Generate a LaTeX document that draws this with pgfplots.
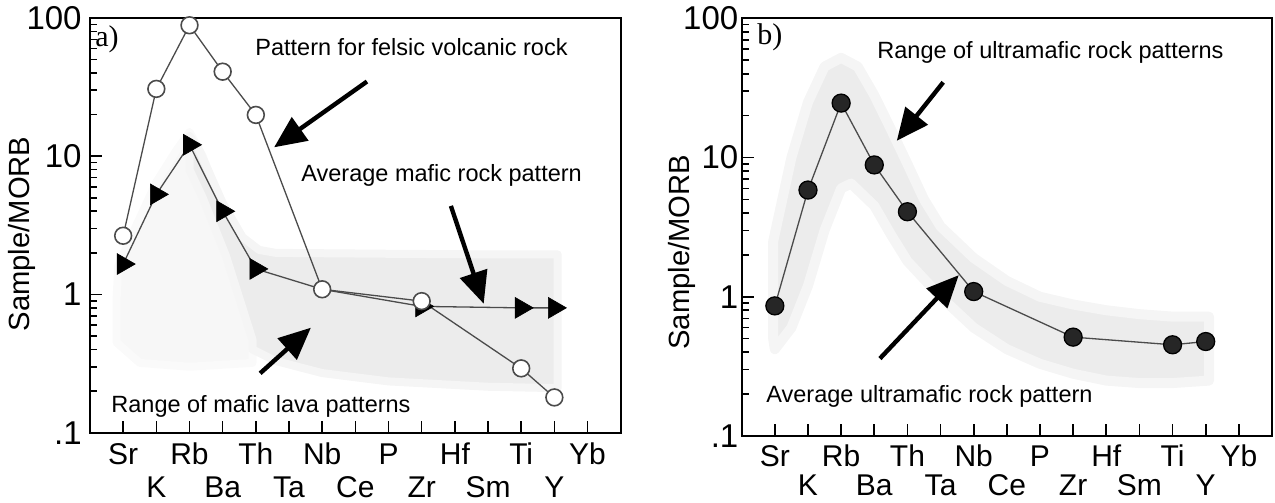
\documentclass[border=0pt]{standalone}
\usepackage{fontspec}
\setmainfont{Liberation Sans}
\newfontfamily\seriffont{Liberation Serif}
\usepackage{pgfplots}
\pgfplotsset{compat=1.18}
\usepackage{pgfplotstable}
\usetikzlibrary{arrows.meta}
\definecolor{shadeD}{RGB}{236,236,236}
\definecolor{shadeL}{RGB}{247,247,247}
\definecolor{dataline}{RGB}{75,75,75}

\pgfplotstableread{
x y
1 2.66
2 30.7
3 88.6
4 40.9
5 19.9
7 1.09
10 0.895
13 0.292
14 0.18
}\felsic
\pgfplotstableread{
x y
1 1.66
2 5.3
3 12.1
4 4.0
5 1.53
7 1.09
10 0.82
13 0.80
14 0.80
}\mafic
\pgfplotstableread{
x y
1 0.86
2 5.84
3 24.6
4 8.85
5 4.08
7 1.09
10 0.513
13 0.452
14 0.477
}\ultra

\tikzset{dline/.style={draw=dataline, line width=0.65pt}}

\begin{document}
\begin{tikzpicture}
\useasboundingbox (0,0) rectangle (637.5pt,251.5pt);

% ---------------- Panel a ----------------
\begin{axis}[at={(45pt,35.15pt)}, anchor=south west,
    width=265.35pt, height=207.35pt,
    scale only axis, ymode=log, xmin=0, xmax=16, ymin=0.1, ymax=100,
    axis line style={line width=1pt},
    tick align=inside, xtick pos=left, ytick pos=left,
    major tick length=6pt, minor tick length=3.5pt,
    tick style={black, line width=0.8pt},
    xtick={1,3,...,15}, xticklabels={Sr,Rb,Th,Nb,P,Hf,Ti,Yb},
    extra x ticks={2,4,...,14}, extra x tick labels={K,Ba,Ta,Ce,Zr,Sm,Y},
    extra x tick style={xticklabel style={yshift=-16.5pt}},
    ytick={0.1,1,10,100},
    yticklabels={\raisebox{-3.5pt}{.1},1,10,100},
    minor ytick={0.2,0.3,0.4,0.5,0.6,0.7,0.8,0.9,2,3,4,5,6,7,8,9,20,30,40,50,60,70,80,90},
    xticklabel style={font=\fontsize{15pt}{17pt}\selectfont, anchor=north, inner sep=0pt, text height=10.6pt, text depth=0pt, yshift=-5pt},
    yticklabel style={font=\fontsize{16.5pt}{19pt}\selectfont, anchor=east, inner sep=0pt, xshift=-4pt},
    ylabel={Sample/MORB},
    ylabel style={font=\fontsize{14.6pt}{17pt}\selectfont, anchor=center, at={(axis description cs:-0.128,0.479)}},
  ]
\addplot[fill=shadeL, draw=shadeL!60!white, line width=4pt, line join=round] coordinates {
 (0.8,0.9) (0.85,1.6) (1.2,2.5) (2,6.5) (2.6,11) (3,15) (3.4,10) (4,4) (4.9,0.5)
 (4.9,0.32) (3,0.3) (1.5,0.32) (0.8,0.45)} -- cycle;
\addplot[fill=shadeD, draw=shadeD!55!white, line width=4pt, line join=round] coordinates {
 (3,14) (3.3,11) (4,4.6) (4.6,2.6) (5.1,2.1) (5.6,2.0) (9,1.97) (12,1.95) (14.1,1.95)
 (14.1,0.21) (12,0.215) (9,0.235) (7,0.27) (5.6,0.33) (4.9,0.4) (4.9,0.47) (4.1,1.9) (3.4,5) (3,8)} -- cycle;
\addplot[dline, mark=triangle*, mark size=6pt, mark indices={1,2,3,4,5,7,8,9},
  mark options={fill=black, draw=black, rotate=-90, line width=0.3pt}] table[x=x,y=y] {\mafic};
\addplot[dline, mark=*, mark size=4.2pt,
  mark options={fill=white, draw=dataline, line width=0.8pt}] table[x=x,y=y] {\felsic};
\draw[line width=2.2pt, -{Triangle[length=16pt,width=14pt]}] (axis cs:8.35,34.7) -- (axis cs:5.55,11.6);
\draw[line width=2.2pt, -{Triangle[length=16pt,width=14pt]}] (axis cs:10.88,4.37) -- (axis cs:11.87,0.857);
\draw[line width=2.2pt, -{Triangle[length=16pt,width=14pt]}] (axis cs:5.13,0.269) -- (axis cs:6.66,0.575);
\end{axis}

% ---------------- Panel b ----------------
\begin{axis}[at={(370.85pt,33.5pt)}, anchor=south west,
    width=265.15pt, height=208.85pt,
    scale only axis, ymode=log, xmin=0, xmax=16, ymin=0.1, ymax=100,
    axis line style={line width=1pt},
    tick align=inside, xtick pos=left, ytick pos=left,
    major tick length=6pt, minor tick length=3.5pt,
    tick style={black, line width=0.8pt},
    xtick={1,3,...,15}, xticklabels={Sr,Rb,Th,Nb,P,Hf,Ti,Yb},
    extra x ticks={2,4,...,14}, extra x tick labels={K,Ba,Ta,Ce,Zr,Sm,Y},
    extra x tick style={xticklabel style={yshift=-14.5pt}},
    ytick={0.1,1,10,100},
    yticklabels={\raisebox{-3.5pt}{.1},1,10,100},
    minor ytick={0.2,0.3,0.4,0.5,0.6,0.7,0.8,0.9,2,3,4,5,6,7,8,9,20,30,40,50,60,70,80,90},
    xticklabel style={font=\fontsize{15pt}{17pt}\selectfont, anchor=north, inner sep=0pt, text height=10.6pt, text depth=0pt, yshift=-4.5pt},
    yticklabel style={font=\fontsize{16.5pt}{19pt}\selectfont, anchor=east, inner sep=0pt, xshift=-1.5pt},
    ylabel={Sample/MORB},
    ylabel style={font=\fontsize{14.6pt}{17pt}\selectfont, anchor=center, at={(axis description cs:-0.113,0.44)}},
  ]
\addplot[fill=shadeD, draw=shadeD!55!white, line width=5pt, line join=round] coordinates {
 (0.95,2.5) (1.5,10) (2,25) (2.5,45) (3,52) (3.5,45) (4,28) (4.5,16) (5,9) (5.5,5) (6,3.2)
 (7,1.9) (8,1.3) (9,1.0) (10,0.88) (11,0.8) (12,0.75) (13,0.72) (14.1,0.72)
 (14.1,0.25) (13,0.24) (12,0.24) (11,0.25) (10,0.28) (9,0.33) (8,0.42) (7,0.6) (6,1.0)
 (5,1.8) (4.5,2.8) (4,4.5) (3.3,6.5) (3,6) (2.5,3) (2,1.2) (1.5,0.6) (1,0.42) (0.95,0.5)} -- cycle;
\addplot[dline, mark=*, mark size=4.5pt,
  mark options={fill=black!85, draw=black}] table[x=x,y=y] {\ultra};
\draw[line width=2.2pt, -{Triangle[length=16pt,width=14pt]}] (axis cs:6.08,34.7) -- (axis cs:4.68,13.2);
\draw[line width=2.2pt, -{Triangle[length=16pt,width=14pt]}] (axis cs:4.17,0.36) -- (axis cs:6.55,1.43);
\end{axis}

% ---------------- annotations (image pixel coordinates) ----------------
\begin{scope}[x=0.5pt, y=-0.5pt, shift={(0pt,251.5pt)},
  every node/.style={inner sep=0pt, anchor=base west, font=\fontsize{11.75pt}{14pt}\selectfont}]
\node at (255,56) {Pattern for felsic volcanic rock};
\node at (301,182) {Average mafic rock pattern};
\node at (111,413) {Range of mafic lava patterns};
\node at (877,59) {Range of ultramafic rock patterns};
\node at (766,403) {Average ultramafic rock pattern};
\node[font=\fontsize{15pt}{17pt}\seriffont] at (95,47) {a)};
\node[font=\fontsize{15pt}{17pt}\seriffont] at (757,45) {b)};
\end{scope}
\end{tikzpicture}
\end{document}
